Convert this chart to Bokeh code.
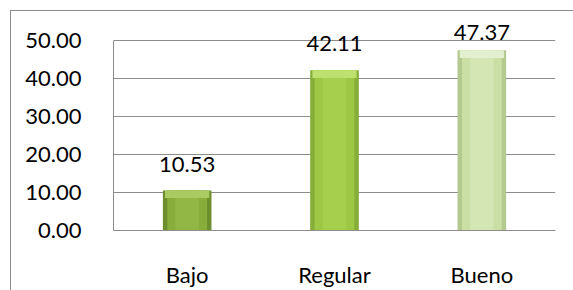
from bokeh.plotting import figure
from bokeh.models import ColumnDataSource, LabelSet, FixedTicker, CustomJSTickFormatter
from bokeh.core.properties import value
from bokeh.embed import file_html
from bokeh.resources import INLINE

categories = ["Bajo", "Regular", "Bueno"]
values = [10.53, 42.11, 47.37]
value_labels = ["10.53", "42.11", "47.37"]
y_ticks = [0, 10, 20, 30, 40, 50]

# styles
edge_colors = ["#6f8f2e", "#86ad37", "#b3c98e"]
body_colors = ["#89ad3b", "#9dc744", "#cadfa6"]
inner_colors = ["#93b744", "#a6cf4e", "#d3e6b3"]
top_colors = ["#a9cb62", "#bde06f", "#e3f0cf"]
label_offsets = [18, 19, 10]

src = ColumnDataSource(dict(
    cat=categories, val=values, lab=value_labels,
    edge=edge_colors, body=body_colors, inner=inner_colors, topc=top_colors,
    top_start=[v - 2.0 for v in values],
    off=label_offsets,
))

FONT = "Lato"
GRID = "#8c8c8c"

p = figure(x_range=categories, y_range=(0, 56), width=563, height=280,
           output_backend="svg", toolbar_location=None,
           min_border_left=102, min_border_right=19, min_border_top=6,
           min_border_bottom=61, margin=(10, 0, 0, 10),
           background_fill_color="white", border_fill_color="white")
p.styles = {"border-left": "1px solid #8c8c8c", "border-top": "1px solid #8c8c8c"}
p.outline_line_color = None

p.vbar(x="cat", top="val", width=0.33, source=src, fill_color="edge", line_color=None)
p.vbar(x="cat", top="val", width=0.27, source=src, fill_color="body", line_color=None)
p.vbar(x="cat", top="val", width=0.16, source=src, fill_color="inner", line_color=None)
p.vbar(x="cat", bottom="top_start", top="val", width=0.30, source=src,
       fill_color="topc", line_color=None)

labels = LabelSet(x="cat", y="val", text="lab", source=src, y_offset="off",
                  text_align="center", text_baseline="alphabetic",
                  text_font=value(FONT), text_font_size="22px", text_color="black")
p.add_layout(labels)

p.yaxis.ticker = FixedTicker(ticks=y_ticks)
p.yaxis.formatter = CustomJSTickFormatter(code="return tick.toFixed(2);")
p.yaxis.bounds = (0, 50)
for ax in (p.xaxis[0], p.yaxis[0]):
    ax.axis_line_color = GRID
    ax.axis_line_width = 1
    ax.major_tick_line_color = None
    ax.minor_tick_line_color = None
    ax.major_label_text_font = FONT
    ax.major_label_text_font_size = "22px"
    ax.major_label_text_color = "black"
p.yaxis.major_label_standoff = 26
p.xaxis.major_label_standoff = 24

p.xgrid.grid_line_color = None
p.ygrid.grid_line_color = GRID
p.ygrid.grid_line_width = 1
p.ygrid.bounds = (0, 50)

open("out.html", "w").write(file_html(p, INLINE))
